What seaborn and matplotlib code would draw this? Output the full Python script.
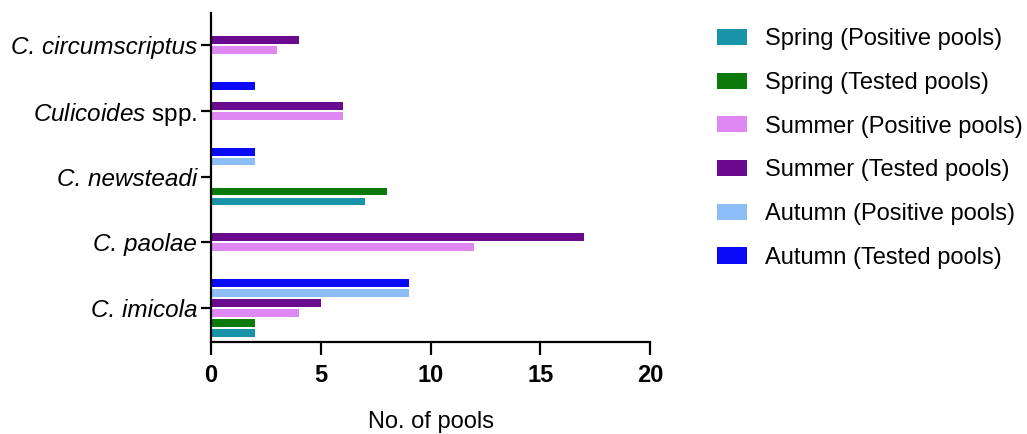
import pandas as pd
import seaborn as sns
import matplotlib.pyplot as plt
from matplotlib.patches import Patch

sns.set_style("white")
plt.rcParams["font.family"] = ["Liberation Sans", "DejaVu Sans"]
plt.rcParams["mathtext.fontset"] = "custom"
plt.rcParams["mathtext.rm"] = "Liberation Sans"
plt.rcParams["mathtext.it"] = "Liberation Sans:italic"
plt.rcParams["text.color"] = "black"
plt.rcParams["axes.labelcolor"] = "black"
plt.rcParams["xtick.color"] = "black"
plt.rcParams["ytick.color"] = "black"

# species, top to bottom
species = [
    "C. circumscriptus",
    "Culicoides spp.",
    "C. newsteadi",
    "C. paolae",
    "C. imicola",
]
series = [
    "Spring (Positive pools)",
    "Spring (Tested pools)",
    "Summer (Positive pools)",
    "Summer (Tested pools)",
    "Autumn (Positive pools)",
    "Autumn (Tested pools)",
]
spring_pos = [0, 0, 7, 0, 2]
spring_tested = [0, 0, 8, 0, 2]
summer_pos = [3, 6, 0, 12, 4]
summer_tested = [4, 6, 0, 17, 5]
autumn_pos = [0, 0, 2, 0, 9]
autumn_tested = [0, 2, 2, 0, 9]
colors = ["#1893a8", "#0b7a0b", "#df88f4", "#6a0a8e", "#8dbdf6", "#0a0af6"]

values = [spring_pos, spring_tested, summer_pos, summer_tested, autumn_pos, autumn_tested]
rows = []
for s, vals in zip(series, values):
    for sp, v in zip(species, vals):
        rows.append({"species": sp, "series": s, "pools": v})
df = pd.DataFrame(rows)

palette = dict(zip(series, colors))

fig = plt.figure(figsize=(10.27, 4.34), dpi=100)
ax = fig.add_axes([0.2055, 0.212, 0.4275, 0.758])

# reversed hue order so spring sits at the bottom of each group
sns.barplot(
    data=df, y="species", x="pools", hue="series",
    order=species, hue_order=series[::-1], palette=palette,
    width=0.91, gap=0.22, linewidth=0, saturation=1, legend=False, ax=ax,
)

ax.set_xlim(0, 20)
ax.set_ylim(4.52, -0.49)
ax.set_xticks([0, 5, 10, 15, 20])
ax.set_ylabel("")
ax.set_xlabel("No. of pools", fontsize=17, labelpad=17)

for side in ["top", "right"]:
    ax.spines[side].set_visible(False)
for side in ["left", "bottom"]:
    ax.spines[side].set_linewidth(1.6)
    ax.spines[side].set_color("black")

ax.tick_params(axis="x", length=9, width=1.6, labelsize=17, pad=7, bottom=True)
ax.tick_params(axis="y", length=7, width=1.6, labelsize=17.5, pad=3, left=True)
for lbl in ax.get_xticklabels():
    lbl.set_fontweight("bold")

# italic species names, "spp." stays upright
ylabels = []
for sp in species:
    if sp.endswith("spp."):
        ylabels.append(r"$\mathit{Culicoides}$ spp.")
    else:
        ylabels.append(sp)
ax.set_yticks(range(len(species)))
ax.set_yticklabels(ylabels)
for lbl, sp in zip(ax.get_yticklabels(), species):
    if not sp.endswith("spp."):
        lbl.set_fontstyle("italic")

handles = [Patch(facecolor=c, edgecolor="none") for c in colors]
fig.legend(
    handles, series, loc="upper left", bbox_to_anchor=(0.698, 0.935),
    frameon=False, fontsize=17, handlelength=1.27, handleheight=0.68,
    handletextpad=0.76, labelspacing=0.92, borderpad=0, borderaxespad=0,
)

fig.savefig("out.png", dpi=100)
